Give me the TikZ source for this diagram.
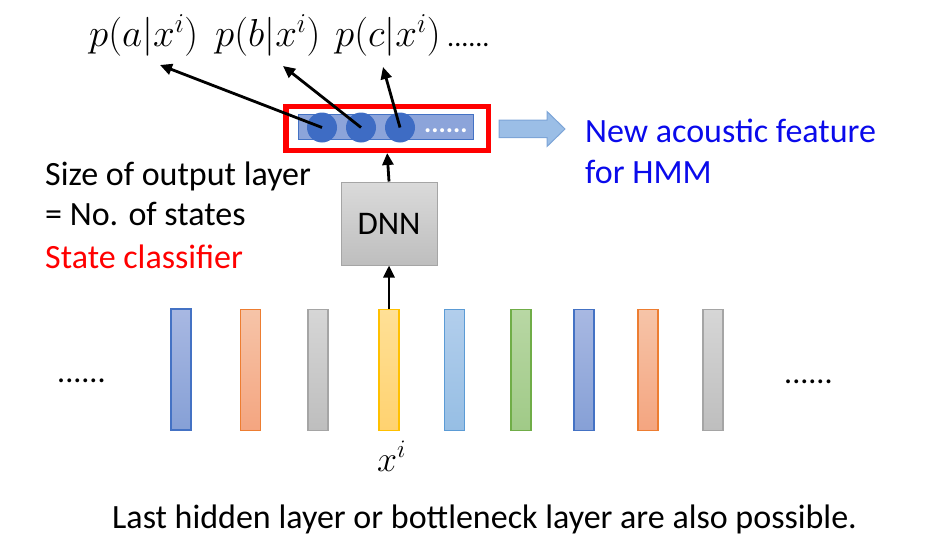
\RequirePackage{fix-cm}
\documentclass[tikz,border=0pt]{standalone}
\usepackage{fontspec}
\setmainfont{Carlito}
\usetikzlibrary{arrows.meta,calc}
\definecolor{bbl}{RGB}{68,114,196}
\definecolor{bblT}{RGB}{168,184,226}
\definecolor{bblB}{RGB}{134,160,214}
\definecolor{orgL}{RGB}{237,125,49}
\definecolor{orgT}{RGB}{246,196,168}
\definecolor{orgB}{RGB}{244,165,128}
\definecolor{gryL}{RGB}{165,165,165}
\definecolor{gryT}{RGB}{214,214,214}
\definecolor{gryB}{RGB}{190,190,190}
\definecolor{yelL}{RGB}{255,192,0}
\definecolor{yelT}{RGB}{255,224,150}
\definecolor{yelB}{RGB}{255,210,112}
\definecolor{lbuL}{RGB}{91,155,213}
\definecolor{lbuT}{RGB}{178,206,236}
\definecolor{lbuB}{RGB}{150,190,228}
\definecolor{grnL}{RGB}{112,173,71}
\definecolor{grnT}{RGB}{184,215,164}
\definecolor{grnB}{RGB}{160,202,135}
\definecolor{dnnT}{RGB}{218,218,218}
\definecolor{dnnB}{RGB}{190,190,190}
\definecolor{txtblue}{RGB}{10,10,235}
\definecolor{pptred}{RGB}{255,0,0}
\definecolor{arrfill}{RGB}{155,190,230}
\definecolor{arrline}{RGB}{125,165,215}
\definecolor{olfill}{RGB}{140,164,218}
\definecolor{dotblue}{RGB}{62,108,196}
\begin{document}
\begin{tikzpicture}[x=1pt,y=-1pt,
  bar/.style n args={3}{rectangle, inner sep=0pt, minimum width=20pt, minimum height=121pt,
     top color=#1, bottom color=#2, draw=#3, line width=1.2pt},
  txt/.style={font=\fontsize{34}{40}\selectfont, inner sep=0pt, anchor=base west},
  mtxt/.style={font=\fontsize{39}{44}\selectfont, inner sep=0pt, anchor=base west},
  arr/.style={line width=2.8pt, -{Triangle[length=12pt,width=11pt]}},
  neuron/.style={circle, fill=dotblue, inner sep=0pt, minimum size=30pt}
]
\useasboundingbox (0,0) rectangle (925,551);

% frame bars
\node[bar={bblT}{bblB}{bbl}] (b1) at (181,369.5) {};
\node[bar={orgT}{orgB}{orgL}] (b2) at (250.5,370) {};
\node[bar={gryT}{gryB}{gryL}] (b3) at (318,370) {};
\node[bar={yelT}{yelB}{yelL}] (b4) at (389,370) {};
\node[bar={lbuT}{lbuB}{lbuL}] (b5) at (454.5,370) {};
\node[bar={grnT}{grnB}{grnL}] (b6) at (521,370) {};
\node[bar={bblT}{bblB}{bbl}] (b7) at (584,370) {};
\node[bar={orgT}{orgB}{orgL}] (b8) at (648,370) {};
\node[bar={gryT}{gryB}{gryL}] (b9) at (713,370) {};

\node[txt, font=\fontsize{32}{40}\selectfont] (ldots) at (57,382) {......};
\node[txt, font=\fontsize{32}{40}\selectfont] (rdots) at (784,383) {......};
\node[mtxt, font=\fontsize{36}{42}\selectfont] (xi) at (377,471) {$x^i$};

% DNN
\node[rectangle, minimum width=96pt, minimum height=83pt, inner sep=0pt,
      top color=dnnT, bottom color=dnnB,
      draw=gryL, line width=1pt, font=\fontsize{33}{40}\selectfont] (dnn) at (389,223.5) {DNN};

% output layer
\node[rectangle, minimum width=175pt, minimum height=25pt, inner sep=0pt,
      fill=olfill, draw=bbl, line width=1pt] (ol) at (385.5,127) {};
\node[neuron] (c1) at (322,127.5) {};
\node[neuron] (c2) at (361,127.5) {};
\node[neuron] (c3) at (400,127.5) {};
\node[font=\bfseries\fontsize{27}{30}\selectfont, text=white, inner sep=0pt, anchor=base west] (odots) at (424,132) {......};

% red selection box
\node[rectangle, minimum width=202.5pt, minimum height=44pt, inner sep=0pt, outer sep=0pt,
      draw=pptred, line width=5.5pt] (sel) at (387,128.5) {};

% labels
\node[mtxt] (pa) at (89,47) {$p(a|x^i)$};
\node[mtxt] (pb) at (215,47) {$p(b|x^i)$};
\node[mtxt] (pc) at (335,47) {$p(c|x^i)$};
\node[font=\fontsize{28}{30}\selectfont, inner sep=0pt, anchor=base west] (pd) at (447,47) {......};

\coordinate (ta) at (160,65);
\coordinate (tb) at (283,66);
\coordinate (tc) at (383,67);

\draw[arr] (c1.center) -- (ta);
\draw[arr] (c2.center) -- (tb);
\draw[arr] (c3.center) -- (tc);
\draw[arr, shorten >=2.5pt] (dnn.north) -- (sel.south);
\draw[arr] (b4.north) -- (dnn.south);

% big arrow
\draw[fill=arrfill, draw=arrline, line width=1pt]
  (499,120) -- (547,120) -- (547,111.5) -- (565,129) -- (547,146.5) -- (547,137.5) -- (499,137.5) -- cycle;

% texts
\node[txt, text=txtblue] (n1) at (585,142) {New acoustic feature};
\node[txt, text=txtblue] (n2) at (585,183) {for HMM};
\node[txt] (s1) at (45,185) {Size of output layer};
\node[txt] (s2) at (45,225) {= No. of states};
\node[txt, text=pptred] (s3) at (45,268) {State classifier};
\node[txt] (bottom) at (112,528) {Last hidden layer or bottleneck layer are also possible.};
\end{tikzpicture}
\end{document}
